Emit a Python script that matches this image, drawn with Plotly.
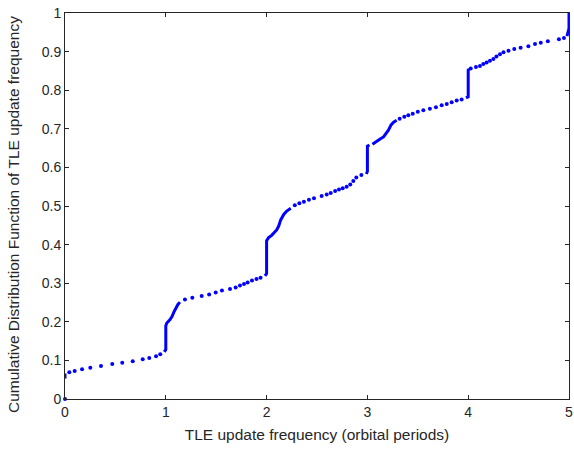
import plotly.graph_objects as go

# Sparse samples of the empirical CDF (orbital periods, cumulative fraction)
dots_x = [0.0, 0.043, 0.096, 0.169, 0.251, 0.357, 0.469, 0.568, 0.672, 0.771, 0.836, 0.903, 0.945,
          1.19, 1.263, 1.356, 1.43, 1.495, 1.557, 1.637, 1.693, 1.736, 1.776, 1.812, 1.855, 1.90, 1.94,
          2.28, 2.325, 2.37, 2.42, 2.47, 2.546, 2.596, 2.636, 2.68, 2.718, 2.755, 2.794, 2.83, 2.86,
          2.89, 2.94,
          3.32, 3.366, 3.406, 3.45, 3.5, 3.555, 3.62, 3.68, 3.737, 3.787, 3.836, 3.886, 3.935,
          4.025, 4.077, 4.117, 4.15, 4.183, 4.216, 4.25, 4.28, 4.315, 4.35, 4.4, 4.457, 4.52, 4.597,
          4.663, 4.72, 4.79, 4.9, 4.95]
dots_y = [0.0, 0.069, 0.0725, 0.077, 0.081, 0.0855, 0.0907, 0.094, 0.098, 0.103, 0.106, 0.111, 0.116,
          0.258, 0.262, 0.267, 0.271, 0.276, 0.281, 0.285, 0.289, 0.294, 0.298, 0.302, 0.307, 0.311, 0.314,
          0.502, 0.507, 0.511, 0.516, 0.52, 0.526, 0.53, 0.534, 0.539, 0.543, 0.546, 0.55, 0.556, 0.565,
          0.574, 0.58,
          0.726, 0.731, 0.735, 0.739, 0.744, 0.748, 0.752, 0.756, 0.761, 0.764, 0.769, 0.773, 0.776,
          0.856, 0.86, 0.863, 0.868, 0.872, 0.876, 0.881, 0.887, 0.893, 0.898, 0.902, 0.907, 0.91, 0.914,
          0.92, 0.923, 0.927, 0.932, 0.935]

# Densely sampled stretches of the CDF (jumps near integer periods)
dense_segments = [
    ([0.0, 0.0], [0.053, 0.066]),
    ([0.985, 1.0, 1.0, 1.01, 1.04, 1.06, 1.08, 1.10, 1.12, 1.14],
     [0.122, 0.128, 0.19, 0.197, 0.205, 0.213, 0.225, 0.237, 0.245, 0.251]),
    ([1.984, 2.0, 2.0, 2.02, 2.05, 2.08, 2.10, 2.12, 2.14, 2.17, 2.2, 2.24],
     [0.319, 0.325, 0.41, 0.418, 0.424, 0.431, 0.438, 0.448, 0.464, 0.478, 0.487, 0.494]),
    ([2.99, 3.0, 3.0, 3.02],
     [0.583, 0.59, 0.655, 0.658]),
    ([3.05, 3.09, 3.13, 3.16, 3.185, 3.21, 3.235, 3.26, 3.29],
     [0.66, 0.666, 0.674, 0.679, 0.687, 0.697, 0.71, 0.717, 0.722]),
    ([3.978, 4.0, 4.0, 4.01],
     [0.78, 0.783, 0.852, 0.855]),
    ([4.98, 5.0, 5.0],
     [0.94, 0.96, 1.0]),
]

x_ticks = [0, 1, 2, 3, 4, 5]
y_ticks = [0, 0.1, 0.2, 0.3, 0.4, 0.5, 0.6, 0.7, 0.8, 0.9, 1]
y_tick_text = ["0", "0.1", "0.2", "0.3", "0.4", "0.5", "0.6", "0.7", "0.8", "0.9", "1"]

blue = "#0000ff"
fig = go.Figure()
fig.add_trace(go.Scatter(x=dots_x, y=dots_y, mode="markers",
                         marker=dict(color=blue, size=4), showlegend=False, cliponaxis=False))
for sx, sy in dense_segments:
    fig.add_trace(go.Scatter(x=sx, y=sy, mode="lines",
                             line=dict(color=blue, width=3), showlegend=False, cliponaxis=False))

axis_common = dict(showgrid=False, zeroline=False, showline=True, linecolor="#262626",
                   linewidth=1, mirror="ticks", ticks="inside", ticklen=4, automargin=False,
                   tickcolor="#262626", tickfont=dict(size=14, color="#262626"))

fig.update_layout(
    width=574, height=450,
    margin=dict(l=65, r=5, t=13, b=51),
    paper_bgcolor="white", plot_bgcolor="white",
    font=dict(family="Liberation Sans, Arial, sans-serif", color="#262626", size=15),
    xaxis=dict(range=[0, 5], tickvals=x_ticks, ticktext=[str(v) for v in x_ticks],
               title=dict(text="TLE update frequency (orbital periods)", standoff=10,
                          font=dict(size=15.5)), **axis_common),
    yaxis=dict(range=[0, 1], tickvals=y_ticks, ticktext=y_tick_text, **axis_common),
)

# Vertical axis label, placed slightly below the plot centre
fig.add_annotation(text="Cumulative Distribution Function of TLE update frequency",
                   xref="paper", yref="paper", x=-0.101, y=0.477,
                   xanchor="center", yanchor="middle", textangle=-90, showarrow=False,
                   font=dict(size=15.5, color="#262626"))

fig.write_html("out.html")
